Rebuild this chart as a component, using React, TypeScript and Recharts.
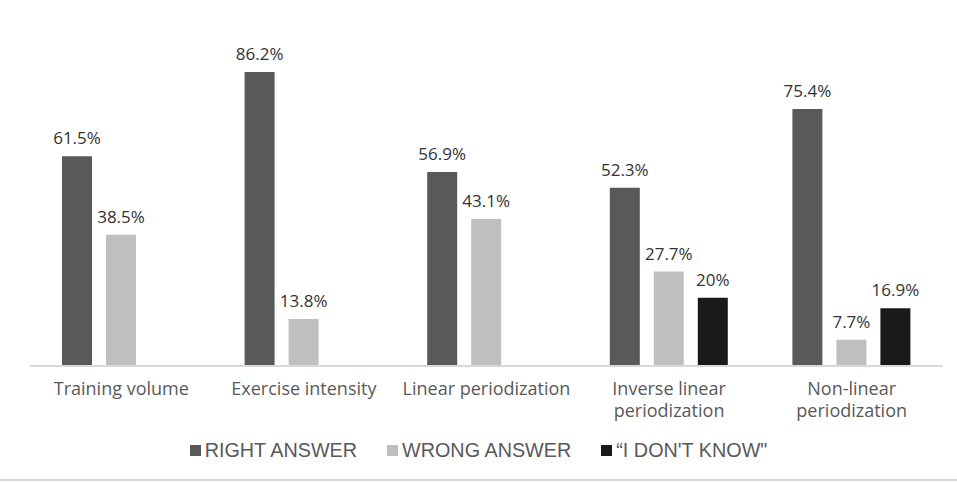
import { BarChart, Bar, XAxis, YAxis, LabelList, Legend } from 'recharts';

const categories = [
  'Training volume',
  'Exercise intensity',
  'Linear periodization',
  'Inverse linear\nperiodization',
  'Non-linear\nperiodization',
];
const rightAnswer = [61.5, 86.2, 56.9, 52.3, 75.4];
const wrongAnswer = [38.5, 13.8, 43.1, 27.7, 7.7];
const dontKnow = [null, null, null, 20, 16.9];

const seriesNames = ['RIGHT ANSWER', 'WRONG ANSWER', '\u201cI DON\'T KNOW"'];
const seriesColors = ['#595959', '#bfbfbf', '#1a1a1a'];

const data = categories.map((name, i) => ({
  name,
  right: rightAnswer[i],
  wrong: wrongAnswer[i],
  dontKnow: dontKnow[i],
}));

const fmt = (v: any) => (v == null ? '' : `${v}%`);

const CategoryTick = ({ x, y, payload }: any) => {
  const lines = String(payload.value).split('\n');
  return (
    <text x={x} y={y} textAnchor="middle" fill="#595959" fontSize={18} fontFamily="'Open Sans', sans-serif">
      {lines.map((l, i) => (
        <tspan key={i} x={x} dy={i === 0 ? 21 : 22}>
          {l}
        </tspan>
      ))}
    </text>
  );
};

const renderLegend = () => (
  <div style={{ display: 'flex', justifyContent: 'center', fontFamily: "'Liberation Sans', Arial, sans-serif", fontSize: 19.8, color: '#595959', paddingLeft: 0 }}>
    {seriesNames.map((n, i) => (
      <div key={n} style={{ display: 'flex', alignItems: 'center', marginRight: i < 2 ? 30 : 0 }}>
        <span style={{ width: 11, height: 11, background: seriesColors[i], marginRight: 4, display: 'inline-block' }} />
        <span>{n}</span>
      </div>
    ))}
  </div>
);

export default function App() {
  const labelStyle = { fill: '#333333', fontSize: 17, fontFamily: "'Open Sans', sans-serif" };
  return (
    <div style={{ position: 'absolute', left: 0, top: 0, width: 957, height: 482, background: '#fff' }}>
      <BarChart
        width={957}
        height={482}
        data={data}
        margin={{ top: 25, right: 14, bottom: 56, left: 30 }}
        barSize={30}
        barGap={14}
      >
        <XAxis
          dataKey="name"
          axisLine={{ stroke: '#d9d9d9', strokeWidth: 2 }}
          tickLine={false}
          height={60}
          interval={0}
          tick={<CategoryTick />}
        />
        <YAxis hide domain={[0, 100]} />
        <Legend
          layout="horizontal"
          verticalAlign="middle"
          align="center"
          content={renderLegend}
          wrapperStyle={{ top: 439, left: 0, width: 957 }}
        />
        <Bar dataKey="right" name={seriesNames[0]} fill={seriesColors[0]} isAnimationActive={false}>
          <LabelList dataKey="right" position="top" offset={12} formatter={fmt} style={labelStyle} />
        </Bar>
        <Bar dataKey="wrong" name={seriesNames[1]} fill={seriesColors[1]} isAnimationActive={false}>
          <LabelList dataKey="wrong" position="top" offset={12} formatter={fmt} style={labelStyle} />
        </Bar>
        <Bar dataKey="dontKnow" name={seriesNames[2]} fill={seriesColors[2]} isAnimationActive={false}>
          <LabelList dataKey="dontKnow" position="top" offset={12} formatter={fmt} style={labelStyle} />
        </Bar>
      </BarChart>
      <div style={{ position: 'absolute', left: 0, top: 479, width: 957, height: 2, background: '#d9d9d9' }} />
    </div>
  );
}
